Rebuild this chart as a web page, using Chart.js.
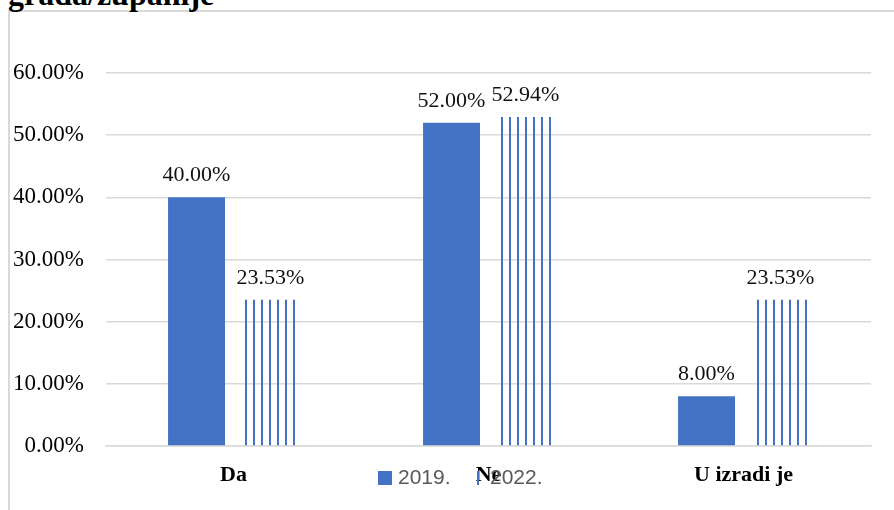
<!DOCTYPE html>
<html>
<head>
<meta charset="utf-8">
<script src="https://cdn.jsdelivr.net/npm/chart.js@4/dist/chart.umd.min.js"></script>
<style>
  html, body { margin: 0; padding: 0; background: #fff; overflow: hidden; }
  #frame {
    position: absolute; left: 8px; top: 10px; width: 900px; height: 520px;
    border-left: 2px solid #d9d9d9; border-top: 2px solid #d9d9d9;
  }
  #heading {
    position: absolute; left: 8px; top: -22px; margin: 0;
    font: bold 32px "Liberation Serif", "Times New Roman", serif; line-height: 1; color: #000;
    white-space: nowrap;
  }
  #wrap { position: absolute; left: 0; top: 0; width: 894px; height: 510px; }
</style>
</head>
<body>
<div id="frame"></div>
<div id="heading">grada/županije</div>
<div id="wrap"><canvas id="chart"></canvas></div>
<script>
const categories = ['Da', 'Ne', 'U izradi je'];
const series2019 = [40.00, 52.00, 8.00];
const series2022 = [23.53, 52.94, 23.53];
const yTicks = [0, 10, 20, 30, 40, 50, 60];

const blue = '#4472C4';
const serif = '"Liberation Serif", "Times New Roman", serif';

// vertical stripes for the 2022 bars
function stripes() {
    const c = document.createElement('canvas');
    c.width = 8; c.height = 8;
    const g = c.getContext('2d');
    g.fillStyle = blue;
    g.fillRect(5, 0, 2, 8);
    return g.createPattern(c, 'repeat');
}
const stripeFill = stripes();

// percentage text above every bar
const barLabels = {
    id: 'barLabels',
    afterDatasetsDraw(chart) {
        const ctx = chart.ctx;
        ctx.save();
        ctx.font = '22px ' + serif;
        ctx.fillStyle = '#111';
        ctx.textAlign = 'center';
        ctx.textBaseline = 'alphabetic';
        chart.data.datasets.forEach((ds, i) => {
            chart.getDatasetMeta(i).data.forEach((bar, j) => {
                ctx.fillText(ds.data[j].toFixed(2) + '%', bar.x, bar.y - 16);
            });
        });
        ctx.restore();
    }
};

// legend drawn on top of the category labels
const legendRow = {
    id: 'legendRow',
    afterDraw(chart) {
        const ctx = chart.ctx;
        ctx.save();
        ctx.font = '21px "Liberation Sans Narrow", "Liberation Sans", Arial, sans-serif';
        ctx.textBaseline = 'middle';
        const items = [
            { ds: chart.data.datasets[0], box: 378, w: 14, text: 398 },
            { ds: chart.data.datasets[1], box: 474, w: 8, text: 490 }
        ];
        items.forEach(it => {
            ctx.fillStyle = it.ds.backgroundColor;
            ctx.fillRect(it.box, 471, it.w, 14);
            ctx.fillStyle = '#595959';
            ctx.fillText(it.ds.label, it.text, 478);
        });
        ctx.restore();
    }
};

new Chart(document.getElementById('chart'), {
    type: 'bar',
    data: {
        labels: categories,
        datasets: [{
            label: '2019.',
            data: series2019,
            backgroundColor: blue,
            borderWidth: 0
        }, {
            label: '2022.',
            data: series2022,
            backgroundColor: stripeFill,
            borderWidth: 0
        }]
    },
    options: {
        responsive: true,
        maintainAspectRatio: false,
        animation: false,
        datasets: {
            bar: { categoryPercentage: 0.58, barPercentage: 0.77 }
        },
        layout: { padding: { top: 73, right: 23, bottom: 0, left: 0 } },
        plugins: {
            legend: { display: false },
            tooltip: { enabled: false }
        },
        scales: {
            x: {
                afterFit: s => { s.height = 64; },
                grid: { display: false, drawTicks: false },
                border: { color: '#d9d9d9', width: 1.5 },
                ticks: {
                    padding: 16,
                    color: '#000',
                    font: { family: serif, size: 22, weight: 'bold' }
                }
            },
            y: {
                min: 0,
                max: 60,
                afterFit: s => { s.width = 106; },
                afterBuildTicks: s => { s.ticks = yTicks.map(v => ({ value: v })); },
                grid: { color: '#d9d9d9', lineWidth: 1.5, drawTicks: false },
                border: { display: false },
                ticks: {
                    padding: 22,
                    color: '#000',
                    font: { family: serif, size: 23 },
                    callback: v => v.toFixed(2) + '%'
                }
            }
        }
    },
    plugins: [barLabels, legendRow]
});
</script>
</body>
</html>
